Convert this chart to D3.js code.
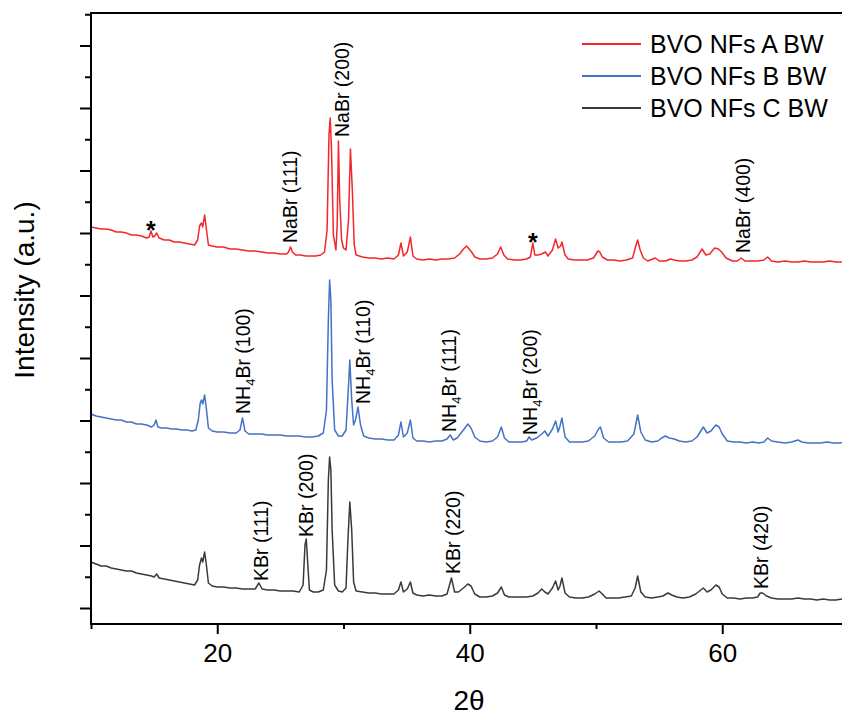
<!DOCTYPE html>
<html>
<head>
<meta charset="utf-8">
<script src="https://cdn.jsdelivr.net/npm/d3@7"></script>
<style>
  body { margin: 0; background: #fff; }
  svg { display: block; font-family: "Liberation Sans", Arial, sans-serif; }
</style>
</head>
<body>
<svg id="chart" width="842" height="718"></svg>
<script>
// XRD patterns of three BVO nanofibre samples, stacked with vertical offsets.
const seriesNames = ["BVO NFs A BW", "BVO NFs B BW", "BVO NFs C BW"];
const seriesColors = ["#f2272c", "#4472c4", "#3a3a3a"];

const xTickMajor = [20, 40, 60];
const xTickMinor = [10, 30, 50, 70];
// unlabelled intensity ticks (a.u.)
const yTicks = [0, 31.25, 62.5, 93.75, 125, 156.25, 187.5, 218.75, 250, 281.25,
  312.5, 343.75, 375, 406.25, 437.5, 468.75, 500, 531.25, 562.5, 593.75];

// [2θ, intensity (a.u.)]
const patternA = [[10.0,381],[10.4,380],[10.8,379],[11.2,379],[11.6,378],[12.0,376],[12.4,376],[12.8,375],[13.2,373],[13.6,373],[14.0,372],[14.4,370],[14.6,371],[14.75,377],[14.9,371],[15.05,372],[15.2,375],[15.4,370],[15.8,368],[16.2,368],[16.6,366],[17.0,366],[17.4,365],[17.8,364],[18.2,363],[18.45,368],[18.6,382],[18.75,385],[18.85,381],[19.0,393],[19.15,378],[19.3,363],[19.6,362],[20.0,361],[20.5,361],[21.0,359],[21.5,359],[22.0,358],[22.5,357],[23.0,357],[23.5,356],[24.0,355],[24.5,355],[25.0,354],[25.5,354],[25.65,356],[25.8,361],[25.95,356],[26.2,353],[26.6,353],[27.0,352],[27.4,352],[27.8,352],[28.2,353],[28.5,356],[28.7,378],[28.85,473],[28.95,490],[29.05,458],[29.2,373],[29.4,358],[29.5,383],[29.6,467],[29.7,408],[29.85,368],[30.0,360],[30.2,358],[30.4,388],[30.55,459],[30.7,418],[30.85,363],[31.0,353],[31.5,351],[32.0,350],[32.5,350],[33.0,349],[33.5,350],[34.0,349],[34.35,353],[34.55,365],[34.75,352],[35.05,356],[35.3,371],[35.5,352],[35.8,349],[36.3,348],[36.8,349],[37.3,348],[37.8,349],[38.3,349],[38.8,350],[39.2,354],[39.5,359],[39.75,362],[39.95,359],[40.15,356],[40.4,351],[40.8,349],[41.3,349],[41.8,350],[42.2,354],[42.45,361],[42.7,353],[43.0,349],[43.5,348],[44.0,348],[44.5,349],[44.8,351],[45.0,365],[45.15,353],[45.4,353],[45.7,354],[46.0,356],[46.2,352],[46.55,358],[46.8,369],[47.0,360],[47.2,362],[47.3,366],[47.55,353],[47.8,349],[48.3,348],[48.8,348],[49.3,348],[49.8,350],[50.0,354],[50.15,357],[50.3,356],[50.5,351],[50.9,348],[51.4,348],[51.9,347],[52.4,348],[52.9,350],[53.15,362],[53.3,368],[53.5,358],[53.75,350],[54.1,347],[54.5,349],[54.7,350],[55.0,347],[55.5,347],[55.9,349],[56.2,348],[56.6,347],[57.1,347],[57.6,348],[58.0,351],[58.4,359],[58.7,353],[59.0,354],[59.4,360],[59.7,359],[59.95,356],[60.3,350],[60.8,347],[61.2,347],[61.5,350],[61.8,347],[62.3,347],[62.8,347],[63.3,348],[63.6,351],[63.9,347],[64.4,346],[65.0,347],[65.5,346],[66.0,346],[66.5,347],[67.0,346],[67.5,346],[68.0,346],[68.5,347],[69.0,346],[69.5,346],[70.0,346]];

const patternB = [[10.0,194],[10.4,192],[10.8,191],[11.2,190],[11.6,189],[12.0,188],[12.4,188],[12.8,186],[13.2,186],[13.6,184],[14.0,184],[14.4,183],[14.8,181],[15.0,183],[15.15,188],[15.3,181],[15.6,180],[16.0,180],[16.4,179],[16.8,179],[17.2,178],[17.6,178],[18.0,177],[18.3,178],[18.5,188],[18.65,205],[18.75,208],[18.85,204],[19.0,213],[19.15,198],[19.3,180],[19.6,177],[20.0,176],[20.5,176],[21.0,175],[21.5,175],[21.8,178],[22.0,190],[22.2,177],[22.5,174],[23.0,174],[23.5,174],[24.0,173],[24.5,173],[25.0,173],[25.5,172],[26.0,172],[26.5,172],[27.0,171],[27.5,171],[28.0,172],[28.4,175],[28.65,198],[28.8,288],[28.9,328],[29.0,308],[29.1,228],[29.3,178],[29.6,172],[29.9,172],[30.2,178],[30.4,223],[30.5,248],[30.65,208],[30.8,183],[30.95,188],[31.15,201],[31.35,183],[31.6,172],[32.0,170],[32.5,169],[33.0,169],[33.5,168],[34.0,168],[34.35,173],[34.55,186],[34.75,171],[35.05,175],[35.3,188],[35.5,170],[35.8,167],[36.3,167],[36.8,166],[37.3,167],[37.8,167],[38.2,169],[38.45,173],[38.7,168],[39.0,170],[39.5,178],[39.85,184],[40.1,180],[40.4,171],[40.8,167],[41.3,166],[41.8,167],[42.2,171],[42.5,181],[42.75,170],[43.1,166],[43.6,166],[44.1,166],[44.5,167],[44.7,171],[44.9,168],[45.3,170],[45.7,174],[45.95,177],[46.2,172],[46.55,179],[46.8,187],[47.0,176],[47.15,182],[47.3,190],[47.55,171],[47.9,166],[48.4,166],[48.9,166],[49.4,167],[49.9,172],[50.2,179],[50.35,181],[50.6,170],[51.0,166],[51.5,166],[52.0,166],[52.5,167],[53.0,174],[53.3,193],[53.55,176],[53.9,168],[54.4,166],[54.9,167],[55.2,170],[55.5,172],[55.8,170],[56.2,169],[56.6,167],[57.1,166],[57.6,167],[58.0,171],[58.5,181],[58.8,175],[59.1,177],[59.5,183],[59.75,181],[60.0,174],[60.4,167],[60.9,166],[61.4,166],[61.9,165],[62.4,166],[62.9,165],[63.3,166],[63.6,170],[63.9,167],[64.4,166],[65.0,165],[65.5,166],[66.0,168],[66.3,166],[66.8,165],[67.3,165],[67.8,165],[68.3,166],[68.8,165],[69.3,165],[69.7,166],[70.0,167]];

const patternC = [[10.0,46],[10.4,44],[10.8,42],[11.2,42],[11.6,40],[12.0,39],[12.4,38],[12.8,37],[13.2,37],[13.6,35],[14.0,34],[14.4,33],[14.8,32],[15.0,31],[15.2,34],[15.4,30],[15.8,29],[16.2,28],[16.6,27],[17.0,26],[17.4,25],[17.8,24],[18.2,23],[18.45,28],[18.6,43],[18.75,50],[18.85,46],[19.0,56],[19.15,42],[19.3,25],[19.6,22],[20.0,21],[20.5,21],[21.0,20],[21.5,20],[22.0,19],[22.5,19],[23.0,19],[23.3,25],[23.55,19],[24.0,18],[24.5,18],[25.0,17],[25.5,17],[26.0,17],[26.5,16],[26.8,23],[26.95,63],[27.05,69],[27.15,48],[27.3,18],[27.6,16],[28.0,16],[28.4,18],[28.65,38],[28.8,128],[28.9,151],[29.0,138],[29.1,78],[29.3,23],[29.6,17],[29.9,16],[30.2,20],[30.35,68],[30.5,106],[30.65,78],[30.8,26],[31.0,17],[31.5,16],[32.0,15],[32.5,15],[33.0,14],[33.5,14],[34.0,14],[34.35,18],[34.55,26],[34.75,16],[35.05,19],[35.3,26],[35.5,15],[35.8,13],[36.3,12],[36.8,13],[37.3,12],[37.8,12],[38.2,14],[38.55,30],[38.8,16],[39.1,16],[39.5,20],[39.85,24],[40.1,22],[40.4,14],[40.8,11],[41.3,11],[41.8,12],[42.2,15],[42.5,21],[42.75,13],[43.1,11],[43.6,11],[44.1,11],[44.5,11],[45.0,12],[45.4,15],[45.7,19],[45.95,16],[46.2,14],[46.55,20],[46.8,27],[47.0,18],[47.15,22],[47.3,30],[47.55,15],[47.9,11],[48.4,10],[48.9,10],[49.4,11],[49.9,14],[50.25,17],[50.5,14],[50.8,10],[51.3,10],[51.8,10],[52.3,11],[52.8,12],[53.1,20],[53.3,32],[53.55,16],[53.9,11],[54.4,10],[54.9,11],[55.3,12],[55.7,15],[56.0,13],[56.4,11],[56.9,10],[57.4,11],[57.9,14],[58.2,17],[58.5,20],[58.8,16],[59.1,18],[59.5,23],[59.75,21],[60.0,14],[60.4,10],[60.9,10],[61.4,9],[61.9,10],[62.4,10],[62.8,11],[63.0,15],[63.2,15],[63.5,12],[63.9,10],[64.4,9],[65.0,9],[65.5,9],[66.0,10],[66.5,9],[67.0,9],[67.5,8],[68.0,9],[68.5,8],[69.0,8],[69.5,9],[70.0,8]];

// Reflection labels: phase, subscript, hkl, anchored at (2θ, intensity)
const reflections = [
  { phase: "NaBr", sub: "", hkl: "(111)", t: 26.32, i: 365 },
  { phase: "NaBr", sub: "", hkl: "(200)", t: 30.44, i: 471 },
  { phase: "NaBr", sub: "", hkl: "(400)", t: 62.2, i: 355 },
  { phase: "NH", sub: "4", hkl: "(100)", t: 22.59, i: 194 },
  { phase: "NH", sub: "4", hkl: "(110)", t: 32.1, i: 204 },
  { phase: "NH", sub: "4", hkl: "(111)", t: 38.91, i: 176 },
  { phase: "NH", sub: "4", hkl: "(200)", t: 45.33, i: 173 },
  { phase: "KBr", sub: "", hkl: "(111)", t: 24.02, i: 27 },
  { phase: "KBr", sub: "", hkl: "(200)", t: 27.58, i: 71 },
  { phase: "KBr", sub: "", hkl: "(220)", t: 39.23, i: 34 },
  { phase: "KBr", sub: "", hkl: "(420)", t: 63.62, i: 19 }
];
// impurity markers on pattern A
const stars = [{ t: 14.75, i: 370 }, { t: 45.0, i: 358 }];

const svg = d3.select("#chart");
const x = d3.scaleLinear().domain([10, 70]).range([91, 848.5]);
const y = d3.scaleLinear().domain([-16, 595]).range([624, 13]);

// traces
const line = d3.line().x(d => x(d[0])).y(d => y(d[1]));
[patternA, patternB, patternC].forEach((p, k) => {
  svg.append("path")
    .attr("d", line(p))
    .attr("fill", "none")
    .attr("stroke", seriesColors[k])
    .attr("stroke-width", 1.5)
    .attr("stroke-linejoin", "round");
});

// x axis
const gx = svg.append("g").attr("transform", "translate(0,624)");
gx.call(d3.axisBottom(x).tickValues(xTickMajor).tickSize(10).tickPadding(10)
  .tickSizeOuter(0).tickFormat(d3.format("d")));
gx.append("g").call(d3.axisBottom(x).tickValues(xTickMinor).tickSize(5).tickFormat(""));
gx.selectAll(".domain").remove();
gx.selectAll("text").attr("font-size", 26).attr("fill", "#000")
  .attr("font-family", "'Liberation Sans', Arial, sans-serif");
gx.selectAll("line").attr("stroke", "#000").attr("stroke-width", 2);

// y axis (unlabelled ticks, alternating long/short)
const gy = svg.append("g").attr("transform", "translate(91,0)");
gy.call(d3.axisLeft(y).tickValues(yTicks.filter((d, i) => i % 2 === 0)).tickSize(11).tickFormat(""));
gy.append("g").call(d3.axisLeft(y).tickValues(yTicks.filter((d, i) => i % 2 === 1)).tickSize(6).tickFormat(""));
gy.selectAll(".domain").remove();
gy.selectAll("line").attr("stroke", "#000").attr("stroke-width", 2);

// frame lines
const frame = svg.append("g").attr("stroke", "#000").attr("stroke-width", 2).attr("fill", "none");
frame.append("line").attr("x1", 91).attr("x2", 91).attr("y1", 13).attr("y2", 625);
frame.append("line").attr("x1", 90).attr("x2", 842).attr("y1", 624).attr("y2", 624);
frame.append("line").attr("x1", 90).attr("x2", 842).attr("y1", 13).attr("y2", 13);

// axis titles
svg.append("text").attr("x", 469).attr("y", 710).attr("text-anchor", "middle")
  .attr("font-size", 28).attr("fill", "#000").text("2θ");
svg.append("text").attr("transform", "translate(34,290) rotate(-90)")
  .attr("text-anchor", "middle").attr("font-size", 28).attr("fill", "#000")
  .text("Intensity (a.u.)");

// reflection labels
reflections.forEach(r => {
  const t = svg.append("text")
    .attr("transform", `translate(${x(r.t)},${y(r.i)}) rotate(-90)`)
    .attr("font-size", 19.5).attr("fill", "#000");
  if (r.sub) {
    t.append("tspan").text(r.phase);
    t.append("tspan").attr("font-size", 13).attr("dy", 5).text(r.sub);
    t.append("tspan").attr("dy", -5).text("Br " + r.hkl);
  } else {
    t.text(r.phase + " " + r.hkl);
  }
});

stars.forEach(s => {
  svg.append("text").attr("x", x(s.t)).attr("y", y(s.i) + 1)
    .attr("text-anchor", "middle").attr("font-size", 25).attr("font-weight", "bold")
    .attr("fill", "#000").text("*");
});

// legend
const legend = svg.append("g");
seriesNames.forEach((name, k) => {
  const ly = 44 + k * 32;
  legend.append("line").attr("x1", 582).attr("x2", 641).attr("y1", ly).attr("y2", ly)
    .attr("stroke", seriesColors[k]).attr("stroke-width", 1.8);
  legend.append("text").attr("x", 650).attr("y", ly + 9)
    .attr("font-size", 25).attr("fill", "#000").text(name);
});
</script>
</body>
</html>
